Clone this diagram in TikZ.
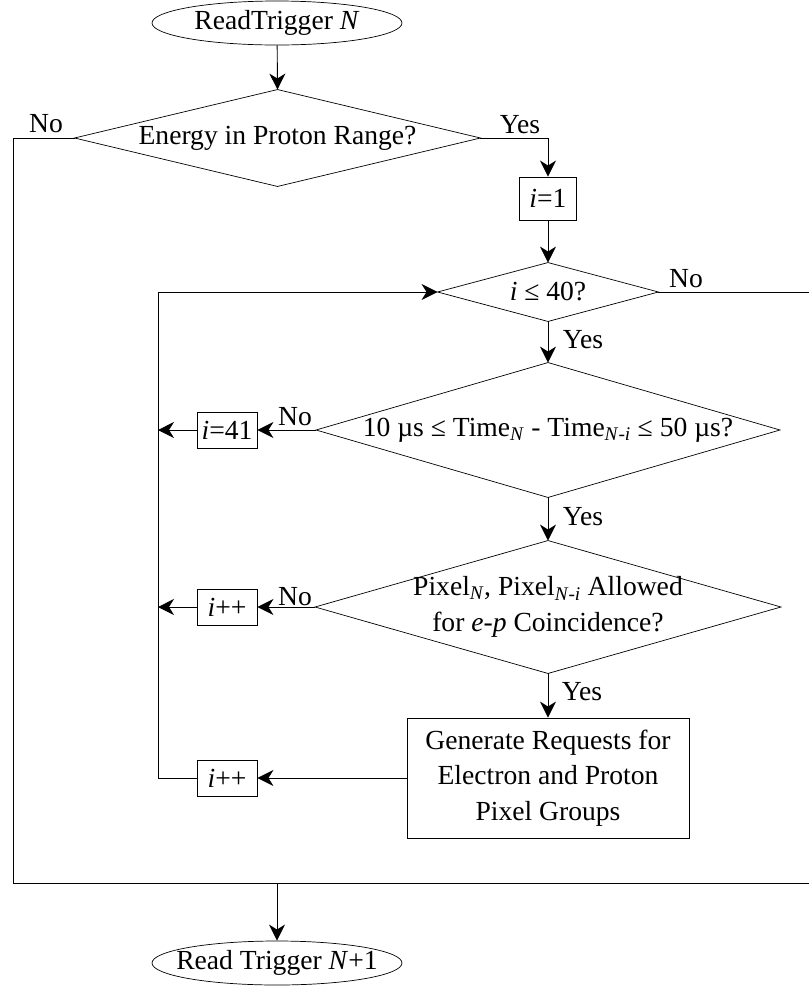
\documentclass[tikz,border=0pt]{standalone}
\usepackage{fontspec}
\setmainfont{Liberation Serif}
\usetikzlibrary{arrows.meta}
\begin{document}
\begin{tikzpicture}[x=1pt,y=-1pt,
  font=\fontsize{27.6}{35.5}\selectfont,
  line width=0.9pt,
  every node/.style={inner sep=0pt},
  >={Stealth[length=16pt,width=16pt,inset=5pt]},
  shell/.style={minimum width=250pt,minimum height=44pt},
  choice/.style={align=center},
  stepbox/.style={draw,minimum width=60pt,minimum height=36pt},
  edge/.style={line width=0.7pt}]
\clip (0,0) rectangle (809,986);

% terminals
\node[shell] (start) at (277,23) {ReadTrigger \textit{N}};
\node[shell] (next) at (277,963) {Read Trigger \textit{N}+1};
\foreach \t in {start,next}
  \draw[edge] (\t.center) ellipse [x radius=125pt,y radius=22pt];

% decisions
\node[choice,minimum width=405pt,minimum height=96pt] (energy) at (277.5,138)
  {Energy in Proton Range?};
\node[choice,minimum width=220pt,minimum height=58pt] (loop) at (548,292)
  {\textit{i} ≤ 40?};
\node[choice,minimum width=463pt,minimum height=134pt] (window) at (548,430)
  {10 µs ≤ Time\textsubscript{\textit{N}} - Time\textsubscript{\textit{N}-\textit{i}} ≤ 50 µs?};
\node[choice,minimum width=465pt,minimum height=132pt] (pixel) at (548,607)
  {Pixel\textsubscript{\textit{N}}, Pixel\textsubscript{\textit{N}-\textit{i}} Allowed\\for \textit{e}-\textit{p} Coincidence?};
\foreach \d in {energy,loop,window,pixel}
  \draw[edge] (\d.north) -- (\d.east) -- (\d.south) -- (\d.west) -- cycle;

% actions
\node[stepbox,minimum width=57pt,minimum height=43pt] (init) at (548,198.5) {\textit{i}=1};
\node[stepbox,minimum width=282pt,minimum height=120pt,align=center] (gen) at (548,778)
  {Generate Requests for\\Electron and Proton\\Pixel Groups};
\node[stepbox] (stop41) at (227,430) {\textit{i}=41};
\node[stepbox] (inc1) at (227,607) {\textit{i}++};
\node[stepbox] (inc2) at (227,778) {\textit{i}++};

% routing points
\coordinate (loopback) at (158,292);
\coordinate (lefttop) at (13,138);
\coordinate (leftbot) at (13,883);
\coordinate (rightbot) at (812,883);
\coordinate (righttop) at (812,292);
\coordinate (merge) at (277,883);

% connectors
\draw[->] (start) -- (energy.north);
\draw[->] (energy.east) -| (init.north);
\draw[->] (init) -- (loop.north);
\draw[->] (loop.south) -- (window.north);
\draw[->] (window.south) -- (pixel.north);
\draw[->] (pixel.south) -- (gen.north);
\draw[->] (window.west) -- (stop41);
\draw[->] (stop41) -- (stop41 -| loopback);
\draw[->] (pixel.west) -- (inc1);
\draw[->] (inc1) -- (inc1 -| loopback);
\draw[->] (gen) -- (inc2);
\draw[->] (inc2.west) -| (loopback) -- (loop.west);
\draw (energy.west) -- (lefttop) -- (leftbot) -- (rightbot) -- (righttop) -- (loop.east);
\draw[->] (merge) -- (next.north);

% branch labels
\node (noA) at (46,124) {No};
\node (yesA) at (520,125) {Yes};
\node (noB) at (686,279) {No};
\node (yesB) at (583,340) {Yes};
\node (noC) at (295,417) {No};
\node (yesC) at (583,517) {Yes};
\node (noD) at (295,597) {No};
\node (yesD) at (582,692) {Yes};
\end{tikzpicture}
\end{document}
